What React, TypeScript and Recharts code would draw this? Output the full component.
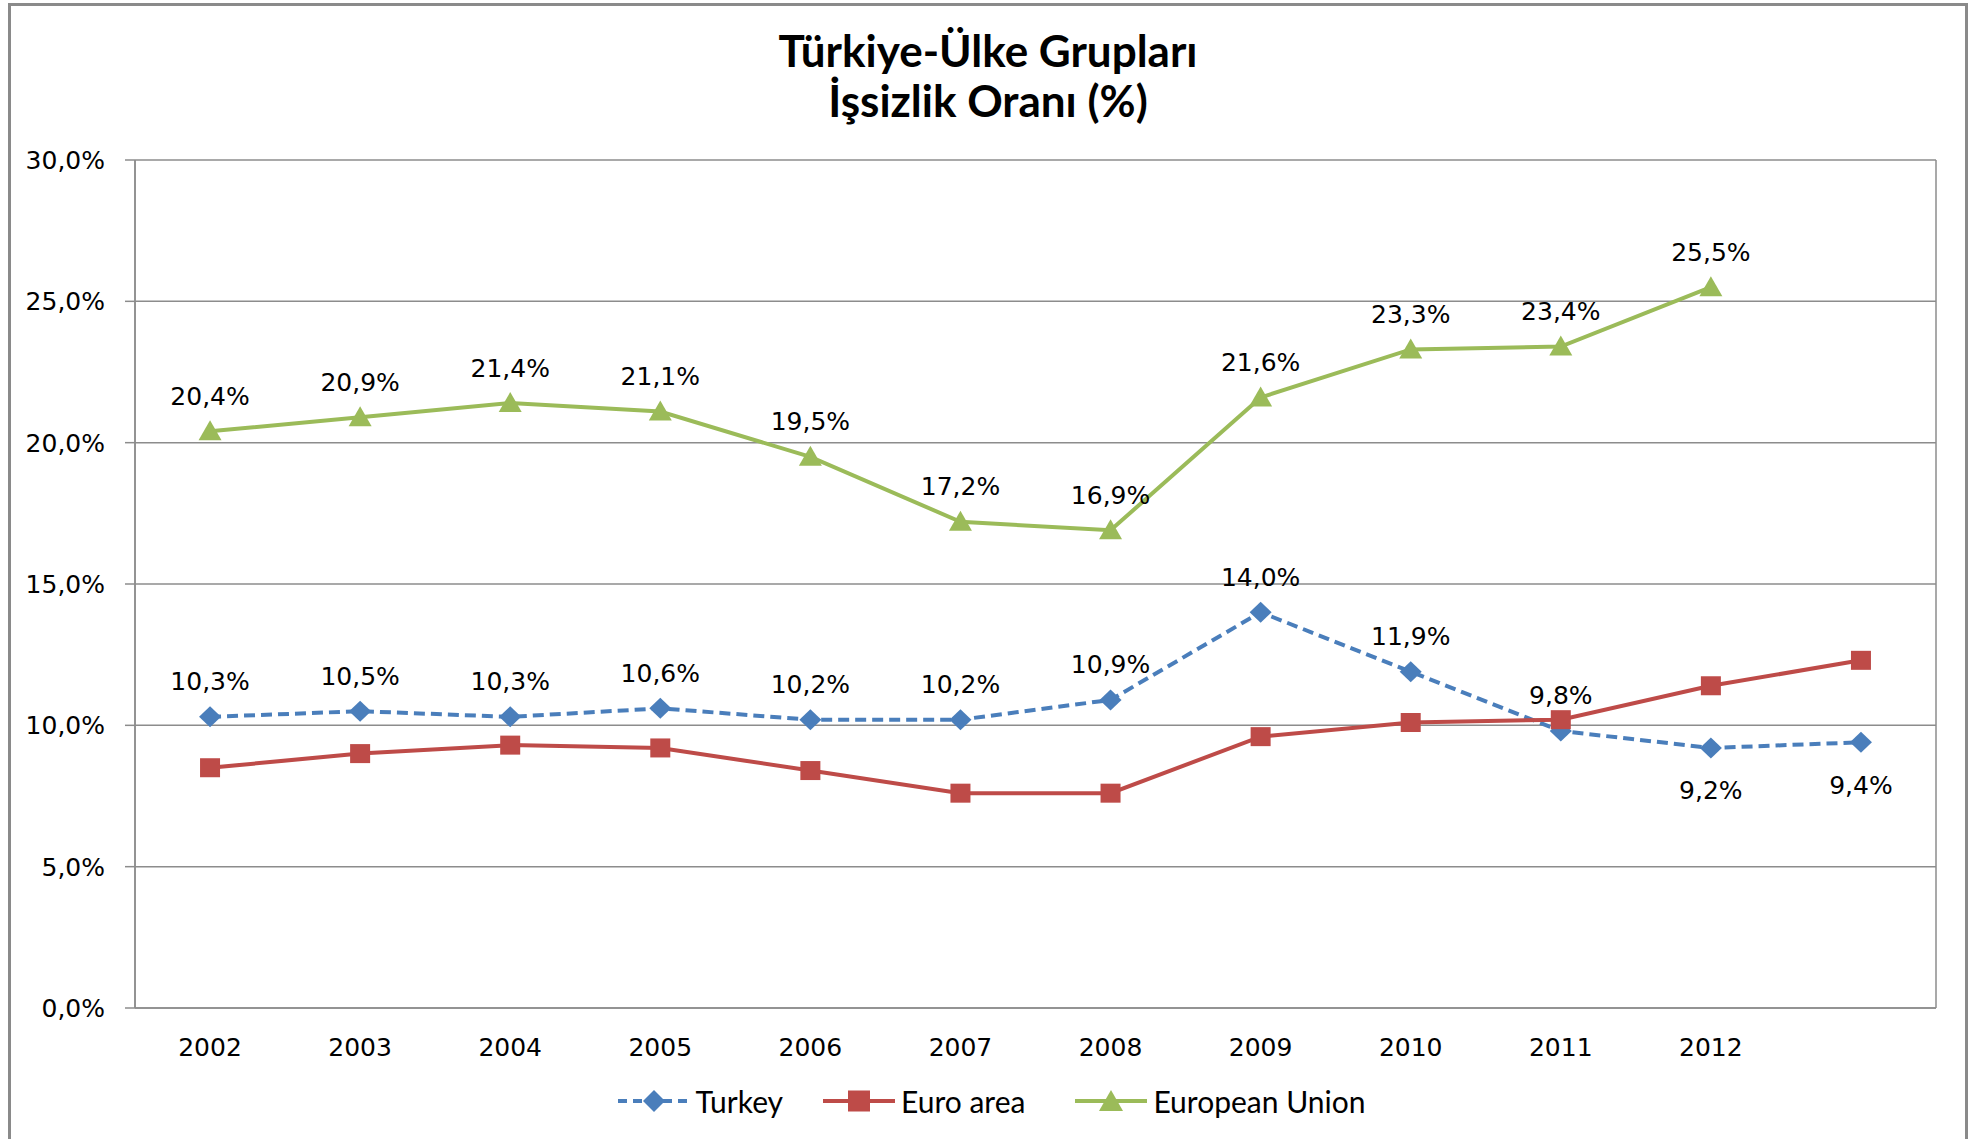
import { LineChart, Line, XAxis, YAxis, CartesianGrid, Legend } from 'recharts'

const years = ['2002', '2003', '2004', '2005', '2006', '2007', '2008', '2009', '2010', '2011', '2012', '']
const turkey = [10.3, 10.5, 10.3, 10.6, 10.2, 10.2, 10.9, 14.0, 11.9, 9.8, 9.2, 9.4]
const euroArea = [8.5, 9.0, 9.3, 9.2, 8.4, 7.6, 7.6, 9.6, 10.1, 10.2, 11.4, 12.3]
const europeanUnion = [20.4, 20.9, 21.4, 21.1, 19.5, 17.2, 16.9, 21.6, 23.3, 23.4, 25.5, null]
const yTicks = [0, 5, 10, 15, 20, 25, 30]
// Turkey labels that sit under the marker instead of above it
const turkeyBelow = new Set([10, 11])

const BLUE = '#4A7EBB'
const RED = '#BE4B48'
const GREEN = '#9BBB59'
const GRID = '#8c8c8c'
const AXIS_FONT = 'DejaVu Sans'

const data = years.map((year, i) => ({
  x: i + 0.5,
  year,
  turkey: turkey[i],
  euro: euroArea[i],
  eu: europeanUnion[i],
}))

const gridTicks = [...years.map((_, i) => i), years.length]
const labelTicks = years.filter(y => y !== '').map((_, i) => i + 0.5)

const pct = (v: number) => `${v.toFixed(1).replace('.', ',')}%`

const diamond = (p: any) => {
  const { cx, cy, index } = p
  if (cy == null) return <g key={`d${index}`} />
  return (
    <polygon
      key={`d${index}`}
      points={`${cx},${cy - 10.5} ${cx + 11},${cy} ${cx},${cy + 10.5} ${cx - 11},${cy}`}
      fill={BLUE}
    />
  )
}

const square = (p: any) => {
  const { cx, cy, index } = p
  if (cy == null) return <g key={`s${index}`} />
  return <rect key={`s${index}`} x={cx - 10} y={cy - 9.5} width={20} height={19} fill={RED} />
}

const triangle = (p: any) => {
  const { cx, cy, index } = p
  if (cy == null) return <g key={`t${index}`} />
  return (
    <polygon
      key={`t${index}`}
      points={`${cx},${cy - 11} ${cx + 11.5},${cy + 9} ${cx - 11.5},${cy + 9}`}
      fill={GREEN}
    />
  )
}

const makeLabel = (below: Set<number>) => (p: any) => {
  const { x, y, value, index } = p
  if (value == null) return <g key={`l${index}`} />
  const dy = below.has(index) ? 43 : -35
  return (
    <text
      key={`l${index}`}
      x={x}
      y={y + dy}
      textAnchor="middle"
      dominantBaseline="central"
      fontFamily={AXIS_FONT}
      fontSize={25}
      fill="#000"
    >
      {pct(value)}
    </text>
  )
}

function LegendIcon({ color, dashed, shape }: { color: string; dashed?: boolean; shape: string }) {
  return (
    <svg width={72} height={30}>
      <line x1={0} y1={15} x2={72} y2={15} stroke={color} strokeWidth={4} strokeDasharray={dashed ? '9 6' : undefined} />
      {shape === 'diamond' && <polygon points="36,4 47,15 36,26 25,15" fill={color} />}
      {shape === 'square' && <rect x={25} y={4.5} width={22} height={21} fill={color} />}
      {shape === 'triangle' && <polygon points="36,4 48,25 24,25" fill={color} />}
    </svg>
  )
}

const legendItems = [
  { name: 'Turkey', color: BLUE, dashed: true, shape: 'diamond' },
  { name: 'Euro area', color: RED, shape: 'square' },
  { name: 'European Union', color: GREEN, shape: 'triangle' },
]
const legendGaps = [40, 50, 0]

function ChartLegend() {
  return (
    <div
      style={{
        display: 'flex',
        justifyContent: 'center',
        alignItems: 'center',
        height: 40,
        paddingLeft: 36,
        fontFamily: 'Lato',
        fontSize: 30,
        color: '#000',
      }}
    >
      {legendItems.map((it, i) => (
        <div key={it.name} style={{ display: 'flex', alignItems: 'center', marginRight: legendGaps[i] }}>
          <LegendIcon color={it.color} dashed={it.dashed} shape={it.shape} />
          <span style={{ marginLeft: 6 }}>{it.name}</span>
        </div>
      ))}
    </div>
  )
}

export default function App() {
  return (
    <div style={{ position: 'fixed', left: 0, top: 0, width: 1968, height: 1139, overflow: 'hidden', background: '#fff' }}>
      <div
        style={{
          position: 'absolute',
          left: 8,
          top: 3,
          width: 1960,
          height: 1200,
          boxSizing: 'border-box',
          border: '3px solid #8a8a8a',
          background: '#fff',
        }}
      >
        <div
          style={{
            position: 'absolute',
            left: 0,
            top: 19,
            width: 1954,
            textAlign: 'center',
            fontFamily: 'Lato',
            fontWeight: 700,
            fontSize: 44,
            lineHeight: '50px',
            color: '#000',
          }}
        >
          Türkiye-Ülke Grupları
          <br />
          İşsizlik Oranı (%)
        </div>
        <LineChart width={1954} height={1115} data={data} margin={{ top: 154, right: 29, bottom: 0, left: 0 }}>
          <CartesianGrid xAxisId="grid" stroke={GRID} strokeWidth={1.5} />
          <XAxis
            xAxisId="grid"
            type="number"
            domain={[0, years.length]}
            ticks={gridTicks}
            allowDataOverflow
            tick={false}
            tickSize={10}
            height={10}
            axisLine={{ stroke: GRID, strokeWidth: 1.5 }}
            tickLine={{ stroke: GRID, strokeWidth: 1.5 }}
          />
          <XAxis
            xAxisId="yr"
            dataKey="x"
            type="number"
            domain={[0, years.length]}
            ticks={labelTicks}
            allowDataOverflow
            tickFormatter={(v: number) => years[Math.floor(v)]}
            height={63}
            axisLine={false}
            tickLine={false}
            tickSize={0}
            tickMargin={20}
            tick={{ fontFamily: AXIS_FONT, fontSize: 25, fill: '#000' }}
          />
          <YAxis
            domain={[0, 30]}
            ticks={yTicks}
            allowDataOverflow
            width={124}
            tickSize={10}
            tickMargin={20}
            tickFormatter={pct}
            axisLine={{ stroke: GRID, strokeWidth: 1.5 }}
            tickLine={{ stroke: GRID, strokeWidth: 1.5 }}
            tick={{ fontFamily: AXIS_FONT, fontSize: 25, fill: '#000' }}
          />
          <Legend verticalAlign="bottom" content={() => <ChartLegend />} />
          <Line
            xAxisId="yr"
            dataKey="turkey"
            name="Turkey"
            type="linear"
            stroke={BLUE}
            strokeWidth={4}
            strokeDasharray="11 6"
            dot={diamond}
            activeDot={false}
            label={makeLabel(turkeyBelow)}
            isAnimationActive={false}
          />
          <Line
            xAxisId="yr"
            dataKey="euro"
            name="Euro area"
            type="linear"
            stroke={RED}
            strokeWidth={4}
            dot={square}
            activeDot={false}
            isAnimationActive={false}
          />
          <Line
            xAxisId="yr"
            dataKey="eu"
            name="European Union"
            type="linear"
            stroke={GREEN}
            strokeWidth={4}
            dot={triangle}
            activeDot={false}
            label={makeLabel(new Set())}
            isAnimationActive={false}
          />
        </LineChart>
      </div>
    </div>
  )
}
